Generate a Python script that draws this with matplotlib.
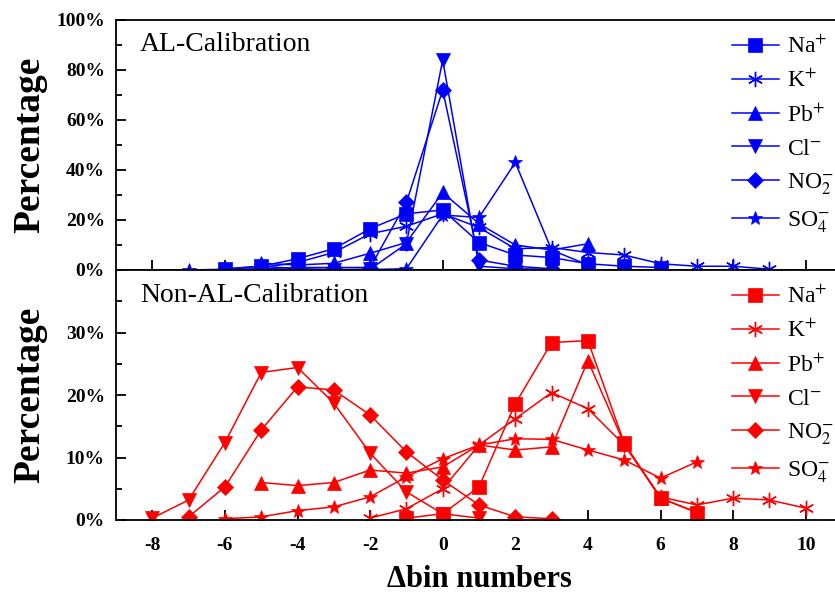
import numpy as np
import matplotlib
matplotlib.use("Agg")
import matplotlib.pyplot as plt
from matplotlib.ticker import MultipleLocator, FuncFormatter, FixedLocator

plt.rcParams.update({
    "font.family": ["Liberation Serif", "DejaVu Serif"],
    "mathtext.fontset": "stix",
    "axes.linewidth": 1.3,
    "xtick.direction": "in",
    "ytick.direction": "in",
})

# --- data: percentage of particles per Δbin -------------------------------
ions = ["Na$^{+}$", "K$^{+}$", "Pb$^{+}$", "Cl$^{-}$", "NO$_{2}^{-}$", "SO$_{4}^{-}$"]
markers = ["s", (6, 2, 0), "^", "v", "D", "*"]

# AL-Calibration
na_al_x = np.arange(-6, 7)
na_al = [0.5, 1.5, 4.5, 8.5, 16.5, 22.5, 24, 11, 6, 5, 2.5, 1.5, 1]
k_al_x = np.arange(-5, 10)
k_al = [1, 3, 7, 14.5, 17.5, 22.5, 17, 8.5, 9, 7, 6, 2.5, 1.5, 1.5, 0.3]
pb_al_x = np.arange(-5, 5)
pb_al = [2.7, 2, 2.7, 6.7, 11, 31, 18.5, 10, 8, 10.5]
cl_al_x = np.arange(-3, 4)
cl_al = [0, 0.3, 10.5, 84, 1.5, 0.5, 0.3]
no2_al_x = np.arange(-6, 4)
no2_al = [0.3, 0.5, 1, 1, 1, 27, 72, 4, 1.5, 0.5]
so4_al_x = np.arange(-7, 5)
so4_al = [0, 0.3, 1.5, 0.5, 0.2, 0.2, 0.5, 22, 21, 43, 8, 2]

# Non-AL-Calibration
na_non_x = np.arange(-1, 8)
na_non = [0.3, 1, 5.3, 18.6, 28.4, 28.7, 12.3, 3.5, 1.2]
k_non_x = np.arange(-2, 11)
k_non = [0.3, 1.8, 5, 12, 16.2, 20.4, 17.8, 12, 3.7, 2.4, 3.5, 3.2, 1.9]
pb_non_x = np.arange(-5, 8)
pb_non = [6, 5.5, 6, 8, 7.5, 8.5, 12, 11.2, 11.7, 25.5, 12.2, 3.5, 1.2]
cl_non_x = np.arange(-8, 2)
cl_non = [0.3, 3.2, 12.4, 23.6, 24.4, 18.7, 10.7, 4.5, 1, 0.3]
no2_non_x = np.arange(-7, 4)
no2_non = [0.5, 5.3, 14.4, 21.3, 20.8, 16.8, 10.9, 6.4, 2.4, 0.5, 0.2]
so4_non_x = np.arange(-6, 8)
so4_non = [0.2, 0.5, 1.5, 2.1, 3.7, 6.9, 9.8, 12, 13, 12.9, 11.2, 9.6, 6.7, 9.3]

al_series = [(na_al_x, na_al), (k_al_x, k_al), (pb_al_x, pb_al),
             (cl_al_x, cl_al), (no2_al_x, no2_al), (so4_al_x, so4_al)]
non_series = [(na_non_x, na_non), (k_non_x, k_non), (pb_non_x, pb_non),
              (cl_non_x, cl_non), (no2_non_x, no2_non), (so4_non_x, so4_non)]

fig = plt.figure(figsize=(8.35, 6.0), dpi=100)
ax_top = fig.add_axes([116 / 835, 330 / 600, 726 / 835, 250 / 600])
ax_bot = fig.add_axes([116 / 835, 80 / 600, 726 / 835, 250 / 600], sharex=ax_top)

pct = FuncFormatter(lambda v, _: f"{v:.0f}%")


def draw_panel(ax, series, color, title, ymax, major, yticks):
    for (x, y), m, lab in zip(series, markers, ions):
        star = m == (6, 2, 0)
        ax.plot(x, y, color=color, lw=1.1, marker=m,
                ms=11 if star else (8 if m == "D" else 10),
                mew=1.0 if star else 0.5, mec=color, mfc=color, label=lab)
    ax.set_xlim(-9, 11)
    ax.set_ylim(0, ymax)
    ax.xaxis.set_major_locator(MultipleLocator(2))
    ax.yaxis.set_major_locator(FixedLocator(yticks))
    ax.yaxis.set_minor_locator(MultipleLocator(major / 2))
    ax.yaxis.set_major_formatter(pct)
    ax.tick_params(which="major", length=7, width=1.3, right=False, top=False,
                   pad=8)
    ax.tick_params(which="minor", length=4, width=1.3)
    for lbl in ax.get_yticklabels():
        lbl.set_fontsize(14)
        lbl.set_fontweight("bold")
    ax.spines["right"].set_visible(False)
    ax.text(0.033, 0.90, title, transform=ax.transAxes, fontsize=20,
            ha="left", va="center")
    ax.set_ylabel("Percentage", fontsize=27, fontweight="bold")
    ax.yaxis.set_label_coords(-0.094, 0.5)
    ax.legend(loc="upper left", bbox_to_anchor=(0.835, 0.975), frameon=False,
              fontsize=17, handlelength=2.0, labelspacing=0.5,
              handletextpad=0.35, borderaxespad=0.0)


draw_panel(ax_top, al_series, "#0000FF", "AL-Calibration", 100, 20,
           [0, 20, 40, 60, 80, 100])
draw_panel(ax_bot, non_series, "#FF0000", "Non-AL-Calibration", 40, 10,
           [0, 10, 20, 30])

ax_top.tick_params(axis="x", labelbottom=False)
ax_bot.set_xticks(np.arange(-8, 11, 2))
ax_bot.set_xticklabels([str(v) for v in range(-8, 11, 2)], fontsize=14,
                       fontweight="bold")
ax_bot.tick_params(axis="x", pad=12)
ax_bot.set_xlabel("Δbin numbers", fontsize=22, fontweight="bold", labelpad=8)

fig.savefig("out.png", dpi=100)
